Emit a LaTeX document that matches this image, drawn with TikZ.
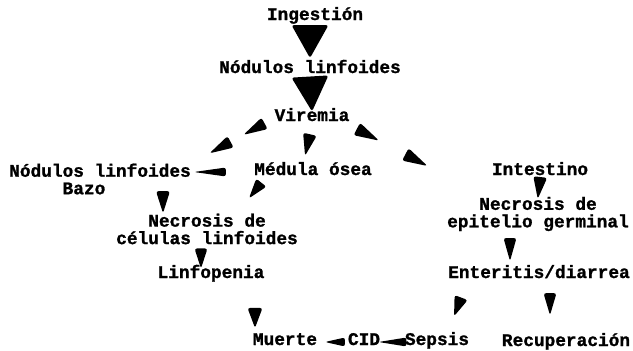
\documentclass[tikz,border=0pt]{standalone}
\usepackage{fontspec}
\setmonofont{Liberation Mono}[BoldFeatures={FakeBold=1.2}]
\usetikzlibrary{calc,decorations.markings}
\newcommand{\lblfont}{\ttfamily\bfseries\fontsize{17.8}{17.5}\selectfont}
\tikzset{
  wedge/.style n args={3}{postaction={decorate,decoration={markings,
      mark=at position #1 with {\fill[rounded corners=2.5pt]
        (-#2/2,#3/2) -- (#2/2,0) -- (-#2/2,-#3/2) -- cycle;}}}},
}

\begin{document}
\begin{tikzpicture}[x=1pt,y=1pt,
    lbl/.style={inner sep=0pt,font=\lblfont,text height=10pt,text depth=4pt},
    lbltwo/.style={inner sep=0pt,font=\lblfont}]
  \useasboundingbox (0,0) rectangle (633,-351);
  \node[lbl] (ing) at (315,-17) {Ingestión};
  \node[lbl] (nod1) at ($(ing)+(-5,-53)$) {Nódulos linfoides};
  \node[lbl] (vir) at ($(nod1)+(2,-48)$) {Viremia};
  \node[lbl] (med) at ($(vir)+(1,-54)$) {Médula ósea};
  \node[lbl] (int) at ($(med)+(227,0)$) {Intestino};
  \node[lbltwo,align=left] (nodb) at ($(med)+(-213,-7)$)
  {Nódulos linfoides\\\phantom{Nódul}Bazo};
  \node[lbltwo,align=center] (necc) at ($(nodb)+(107,-50)$)
  {Necrosis de\\células linfoides};
  \node[lbl] (lin) at ($(necc)+(4,-46)$) {Linfopenia};
  \node[lbltwo,align=center] (nece) at ($(int)+(-2,-42)$)
  {Necrosis de\\epitelio germinal};
  \node[lbl] (ent) at ($(nece)+(1,-61)$) {Enteritis/diarrea};
  \node[lbl] (mue) at ($(lin)+(74,-67)$) {Muerte};
  \node[lbl] (cid) at ($(mue)+(79,0)$) {CID};
  \node[lbl] (sep) at ($(cid)+(73,0)$) {Sepsis};
  \node[lbl] (rec) at ($(ent)+(27,-68)$) {Recuperación};
  \path[wedge={0.45}{33}{37}] (ing.south -| nod1.north) -- (nod1.north);
  \path[wedge={0.5}{35}{37}] (nod1.south) -- (vir.north);
  \path[wedge={0.245}{24}{13},wedge={0.653}{24}{13}] (vir.west) -- (nodb.north east);
  \path[wedge={0.5}{22}{14}] (vir.south) -- ([xshift=-10pt]med.north);
  \path[wedge={0.153}{25}{14},wedge={0.558}{25}{14}] (vir.south east)
    -- ($(int.south west)!.5!(nece.north west)$);
  \path[wedge={0.7}{32}{9}] (med.west) -- (med.west -| nodb.east);
  \path[wedge={0.4}{22}{14}] ($(nodb.south east)+(-28,0)$) -- ($(necc.north west)+(47,0)$);
  \path[wedge={0.33}{20}{13}] ([xshift=10pt]med.south west) -- ([xshift=30pt]necc.north);
  \path[wedge={0.6}{20}{13}] ([xshift=-6pt]necc.south) -- ([xshift=-10pt]lin.north);
  \path[wedge={0.5}{22}{14}] (int.south) -- (nece.north);
  \path[wedge={0.5}{23}{13}] ([xshift=-28pt]nece.south) -- ([xshift=-29pt]ent.north);
  \path[wedge={0.47}{20}{14}] ([xshift=-72pt]ent.south) -- ([xshift=10pt]sep.north);
  \path[wedge={0.41}{22}{13}] ([xshift=11pt]ent.south) -- ([xshift=-16pt]rec.north);
  \path[wedge={0.68}{20}{15}] ([xshift=44pt]lin.south) -- ([xshift=-30pt]mue.north);
  \path[wedge={0.42}{20}{9}] (cid.west) -- (mue.east);
  \path[wedge={0.5}{28}{9}] (sep.west) -- (cid.east);
\end{tikzpicture}
\end{document}
